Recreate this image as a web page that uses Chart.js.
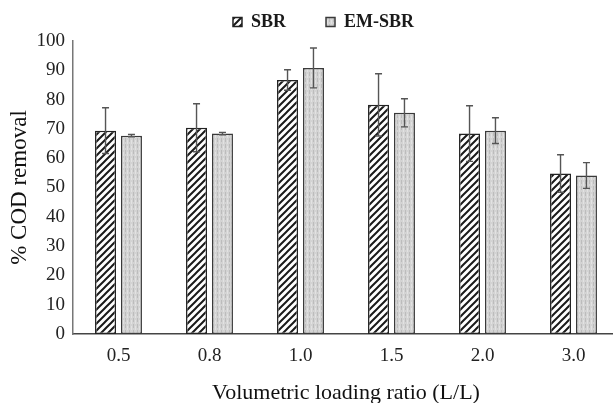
<!DOCTYPE html>
<html>
<head>
<meta charset="utf-8">
<script src="https://cdn.jsdelivr.net/npm/chart.js@4/dist/chart.umd.min.js"></script>
<style>
    html, body { margin: 0; padding: 0; background: #fff; overflow: hidden; }
    #wrap { width: 619px; height: 403px; }
</style>
</head>
<body>
<div id="wrap"><canvas id="codChart"></canvas></div>
<script>
// volumetric loading ratio (L/L) on the x axis
const loadingRatios = ['0.5', '0.8', '1.0', '1.5', '2.0', '3.0'];

// % COD removal
const sbrRemoval = [69.4, 70.4, 86.7, 78.2, 68.4, 54.8];
const sbrError = [7.8, 8.2, 3.5, 10.6, 9.5, 6.4];
const emSbrRemoval = [67.7, 68.4, 90.8, 75.5, 69.4, 54.1];
const emSbrError = [0.4, 0.4, 6.8, 4.8, 4.4, 4.4];

const yTicks = [0, 10, 20, 30, 40, 50, 60, 70, 80, 90, 100];

const serif = '"Liberation Serif", "Times New Roman", serif';

function makeTile(w, h) {
    const c = document.createElement('canvas');
    c.width = w;
    c.height = h;
    return c;
}

function hatchPattern() {
    const tile = makeTile(7, 7);
    const g = tile.getContext('2d');
    g.fillStyle = '#ffffff';
    g.fillRect(0, 0, 7, 7);
    g.strokeStyle = '#1a1a1a';
    g.lineWidth = 2;
    g.beginPath();
    g.moveTo(-1, 8);
    g.lineTo(8, -1);
    g.moveTo(-4, 4);
    g.lineTo(4, -4);
    g.moveTo(3, 11);
    g.lineTo(11, 3);
    g.stroke();
    return g.createPattern(tile, 'repeat');
}

function greyPattern() {
    const tile = makeTile(4, 6);
    const g = tile.getContext('2d');
    g.fillStyle = '#d3d3d3';
    g.fillRect(0, 0, 4, 6);
    g.fillStyle = '#bcbcbc';
    g.fillRect(1, 0, 1, 4);
    g.fillStyle = '#e2e2e2';
    g.fillRect(3, 2, 1, 4);
    return g.createPattern(tile, 'repeat');
}

function dataSet(label, bg, border, data, errors) {
    return {
        label: label,
        backgroundColor: bg,
        borderColor: border,
        borderWidth: 1.5,
        borderSkipped: false,
        data: data,
        errors: errors,
        categoryPercentage: 0.57,
        barPercentage: 0.81
    }
}

// draws the +/- error whiskers using the chart's own scales
const errorBars = {
    id: 'errorBars',
    afterDatasetsDraw(chart) {
        const ctx = chart.ctx;
        const y = chart.scales.y;
        ctx.save();
        ctx.strokeStyle = '#555555';
        ctx.lineWidth = 1.4;
        chart.data.datasets.forEach(function (ds, di) {
            const meta = chart.getDatasetMeta(di);
            meta.data.forEach(function (bar, i) {
                const v = ds.data[i];
                const e = ds.errors[i];
                const top = y.getPixelForValue(v + e);
                const bot = y.getPixelForValue(v - e);
                ctx.beginPath();
                ctx.moveTo(bar.x, top);
                ctx.lineTo(bar.x, bot);
                ctx.moveTo(bar.x - 3.5, top);
                ctx.lineTo(bar.x + 3.5, top);
                ctx.moveTo(bar.x - 3.5, bot);
                ctx.lineTo(bar.x + 3.5, bot);
                ctx.stroke();
            });
        });
        ctx.restore();
    }
};

// legend in the figure sits a little right of the canvas centre
const legendNudge = {
    id: 'legendNudge',
    afterLayout(chart) {
        chart.legend.left += 14;
        chart.legend.right += 14;
        if (chart.legend.adjustHitBoxes) chart.legend.adjustHitBoxes();
    }
};

new Chart(document.getElementById('codChart').getContext('2d'), {
    type: 'bar',
    data: {
        labels: loadingRatios,
        datasets: [
            dataSet('SBR', hatchPattern(), '#222222', sbrRemoval, sbrError),
            dataSet('EM-SBR', greyPattern(), '#3a3a3a', emSbrRemoval, emSbrError)
        ]
    },
    options: {
        responsive: true,
        maintainAspectRatio: false,
        animation: false,
        layout: { padding: { top: -27, right: 0, bottom: 0, left: 0 } },
        plugins: {
            tooltip: { enabled: false },
            legend: {
                position: 'top',
                labels: {
                    font: { family: serif, size: 18, weight: 'bold' },
                    color: '#1a1a1a',
                    boxWidth: 9,
                    boxHeight: 9,
                    padding: 40
                }
            }
        },
        scales: {
            x: {
                grid: { display: false, drawTicks: false },
                border: { display: true, color: '#444', width: 1.5 },
                ticks: { font: { family: serif, size: 19 }, color: '#222', padding: 11 },
                title: {
                    display: true,
                    text: 'Volumetric loading ratio (L/L)',
                    font: { family: serif, size: 22 },
                    color: '#111',
                    padding: { top: 0, bottom: -3 }
                },
                afterFit: function (scale) { scale.height = 69; }
            },
            y: {
                min: 0,
                max: 100,
                afterBuildTicks: function (scale) {
                    scale.ticks = yTicks.map(function (v) { return { value: v }; });
                },
                grid: { display: false, drawTicks: false },
                border: { display: true, color: '#777', width: 1.5 },
                ticks: { font: { family: serif, size: 19 }, color: '#222', padding: 8 },
                title: {
                    display: true,
                    text: '% COD removal',
                    font: { family: serif, size: 23 },
                    color: '#111',
                    padding: { top: 6, bottom: 0 }
                },
                afterFit: function (scale) { scale.width = 73; }
            }
        }
    },
    plugins: [errorBars, legendNudge]
});
</script>
</body>
</html>
